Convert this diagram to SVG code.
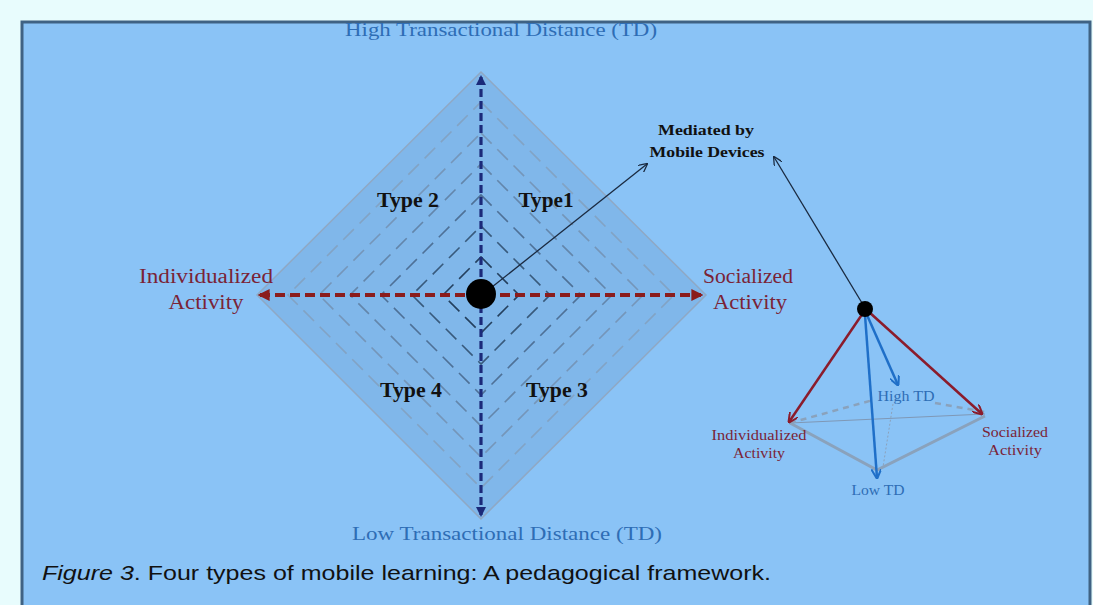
<svg xmlns="http://www.w3.org/2000/svg" width="1093" height="605" viewBox="0 0 1093 605">
<defs>
<style>
.serif{font-family:"Liberation Serif","DejaVu Serif",serif}
.td{fill:#2e6db5;font-size:18px}
.act{fill:#7a2336;font-size:20px}
.type{fill:#111;font-size:21px;font-weight:bold}
.med{fill:#111;font-size:15.5px;font-weight:bold}
.small-act{fill:#7a2336;font-size:14.5px}
.small-td{fill:#2e6db5;font-size:14.5px}
.ring{fill:none;stroke-width:1.6;stroke-dasharray:15,8}
</style>
<marker id="navyHead" viewBox="0 0 10 10" refX="8" refY="5" markerWidth="3.2" markerHeight="3.2" orient="auto-start-reverse"><path d="M0,0 L10,5 L0,10 z" fill="#1b2a7a"/></marker>
<marker id="redHead" viewBox="0 0 10 10" refX="8" refY="5" markerWidth="3" markerHeight="3" orient="auto-start-reverse"><path d="M0,0 L10,5 L0,10 z" fill="#8b1c1c"/></marker>
<marker id="openHead" viewBox="0 0 10 10" refX="9" refY="5" markerWidth="9" markerHeight="9" markerUnits="userSpaceOnUse" orient="auto"><path d="M0,0 L10,5 L0,10" fill="none" stroke="#1a2a40" stroke-width="1.4"/></marker>
<marker id="redTip" viewBox="0 0 10 10" refX="9" refY="5" markerWidth="10" markerHeight="10" markerUnits="userSpaceOnUse" orient="auto"><path d="M0,0 L10,5 L0,10" fill="none" stroke="#8b1c2c" stroke-width="2"/></marker>
<marker id="blueTip" viewBox="0 0 10 10" refX="9" refY="5" markerWidth="10" markerHeight="10" markerUnits="userSpaceOnUse" orient="auto"><path d="M0,0 L10,5 L0,10" fill="none" stroke="#1f6fc8" stroke-width="2"/></marker>
</defs>

<rect x="0" y="0" width="1093" height="605" fill="#e8fcfd"/>
<rect x="22" y="22" width="1068" height="600" fill="#8ac3f6" stroke="#3f6283" stroke-width="3"/>

<g id="diamond">
<polygon points="481,72 706,295 481,519 257,295" fill="#80b7ea" stroke="#8fa8c4" stroke-width="1.5"/>
<polygon class="ring" points="481,102 674,295 481,488 288,295" stroke="#82a3c4"/>
<polygon class="ring" points="481,133 643,295 481,457 319,295" stroke="#7596b9"/>
<polygon class="ring" points="481,164 612,295 481,426 350,295" stroke="#6386ab"/>
<polygon class="ring" points="481,195 581,295 481,395 381,295" stroke="#4e7197"/>
<polygon class="ring" points="481,226 550,295 481,364 412,295" stroke="#385a7c"/>
<polygon class="ring" points="481,257 519,295 481,333 443,295" stroke="#24405e"/>
</g>

<g id="connectors">
<line x1="481" y1="77" x2="481" y2="515" stroke="#1b2a7a" stroke-width="3.2" stroke-dasharray="8,4" marker-start="url(#navyHead)" marker-end="url(#navyHead)"/>
<line x1="260" y1="295" x2="701" y2="295" stroke="#8b1c1c" stroke-width="4" stroke-dasharray="10,5" marker-start="url(#redHead)" marker-end="url(#redHead)"/>
<line x1="492" y1="287" x2="647" y2="164" stroke="#1a2a40" stroke-width="1.3" marker-end="url(#openHead)"/>
<line x1="862" y1="303" x2="774" y2="157" stroke="#1a2a40" stroke-width="1.3" marker-end="url(#openHead)"/>
<!-- pyramid base -->
<polyline points="790,423 877,470 985,416" fill="none" stroke="#8aa2bc" stroke-width="3"/>
<line x1="790" y1="423" x2="985" y2="414" stroke="#7f98b6" stroke-width="1"/>
<polyline points="790,423 873,400" fill="none" stroke="#8aa2bc" stroke-width="2.5" stroke-dasharray="6,5"/>
<polyline points="935,403 985,412" fill="none" stroke="#8aa2bc" stroke-width="2.5" stroke-dasharray="6,5"/>
<line x1="893" y1="404" x2="883" y2="467" stroke="#8aa2bc" stroke-width="1" stroke-dasharray="2,2"/>
<!-- pyramid edges -->
<line x1="863" y1="313" x2="789" y2="422" stroke="#8b1c2c" stroke-width="2.5" marker-end="url(#redTip)"/>
<line x1="869" y1="312" x2="982" y2="414" stroke="#8b1c2c" stroke-width="2.5" marker-end="url(#redTip)"/>
<line x1="865" y1="315" x2="877" y2="478" stroke="#1f6fc8" stroke-width="2.5" marker-end="url(#blueTip)"/>
<line x1="867" y1="315" x2="898" y2="385" stroke="#1f6fc8" stroke-width="2.5" marker-end="url(#blueTip)"/>
</g>

<g id="centerDot"><circle cx="481" cy="294" r="15" fill="#000"/></g>
<g id="pyramidDot"><circle cx="865" cy="309" r="8" fill="#000"/></g>

<g id="highTD"><text class="serif td" x="501" y="36" text-anchor="middle" textLength="312" lengthAdjust="spacingAndGlyphs">High Transactional Distance (TD)</text></g>
<g id="lowTD"><text class="serif td" x="507" y="540" text-anchor="middle" textLength="310" lengthAdjust="spacingAndGlyphs">Low Transactional Distance (TD)</text></g>
<g id="individualized"><text class="serif act" text-anchor="middle"><tspan x="206" y="283" textLength="134" lengthAdjust="spacingAndGlyphs">Individualized</tspan><tspan x="206" y="309" textLength="75" lengthAdjust="spacingAndGlyphs">Activity</tspan></text></g>
<g id="socialized"><text class="serif act" text-anchor="middle"><tspan x="748" y="283" textLength="90" lengthAdjust="spacingAndGlyphs">Socialized</tspan><tspan x="750" y="309" textLength="74" lengthAdjust="spacingAndGlyphs">Activity</tspan></text></g>
<g id="type2"><text class="serif type" x="408" y="207" text-anchor="middle" textLength="62" lengthAdjust="spacingAndGlyphs">Type 2</text></g>
<g id="type1"><text class="serif type" x="546" y="207" text-anchor="middle" textLength="55" lengthAdjust="spacingAndGlyphs">Type1</text></g>
<g id="type4"><text class="serif type" x="411" y="397" text-anchor="middle" textLength="62" lengthAdjust="spacingAndGlyphs">Type 4</text></g>
<g id="type3"><text class="serif type" x="557" y="397" text-anchor="middle" textLength="62" lengthAdjust="spacingAndGlyphs">Type 3</text></g>
<g id="mediated"><text class="serif med" text-anchor="middle"><tspan x="706" y="135" textLength="96" lengthAdjust="spacingAndGlyphs">Mediated by</tspan><tspan x="707" y="157" textLength="115" lengthAdjust="spacingAndGlyphs">Mobile Devices</tspan></text></g>
<g id="pHigh"><text class="serif small-td" x="906" y="401" text-anchor="middle" textLength="57" lengthAdjust="spacingAndGlyphs">High TD</text></g>
<g id="pLow"><text class="serif small-td" x="878" y="495" text-anchor="middle" textLength="53" lengthAdjust="spacingAndGlyphs">Low TD</text></g>
<g id="pInd"><text class="serif small-act" text-anchor="middle"><tspan x="759" y="440" textLength="95" lengthAdjust="spacingAndGlyphs">Individualized</tspan><tspan x="759" y="458" textLength="52" lengthAdjust="spacingAndGlyphs">Activity</tspan></text></g>
<g id="pSoc"><text class="serif small-act" text-anchor="middle"><tspan x="1015" y="437" textLength="66" lengthAdjust="spacingAndGlyphs">Socialized</tspan><tspan x="1015" y="455" textLength="54" lengthAdjust="spacingAndGlyphs">Activity</tspan></text></g>

<g id="caption"><text x="42" y="580" font-family="'Liberation Sans','DejaVu Sans',sans-serif" font-size="21" fill="#111" textLength="729" lengthAdjust="spacingAndGlyphs"><tspan font-style="italic">Figure 3</tspan>. Four types of mobile learning: A pedagogical framework.</text></g>
</svg>
